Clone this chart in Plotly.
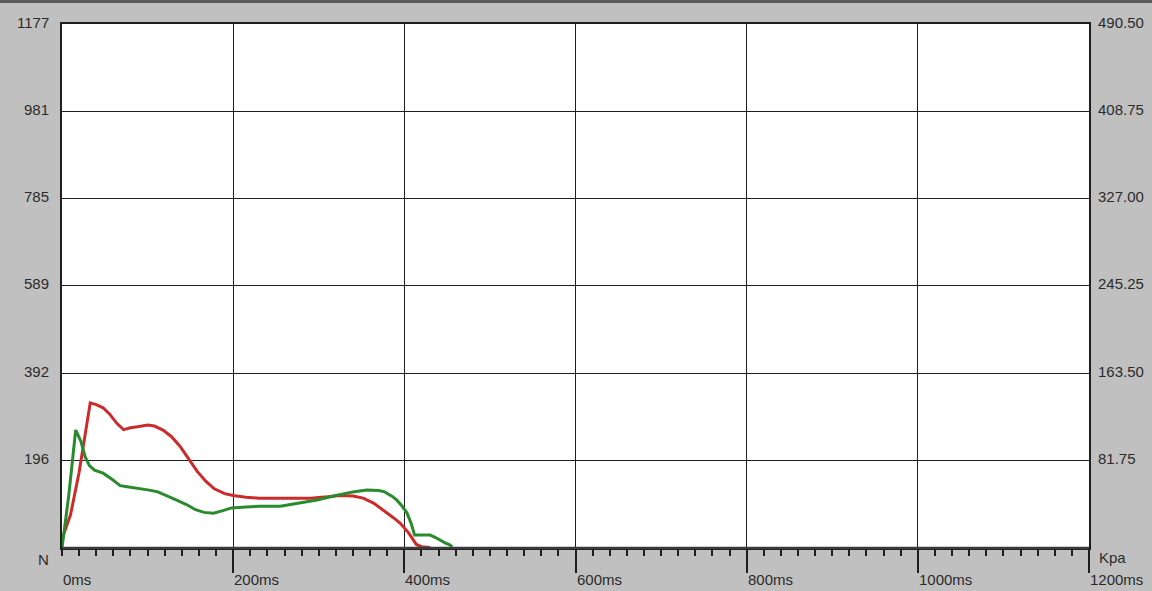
import plotly.graph_objects as go

# Force traces (time in ms, force in N)
red_t = [0, 10, 20, 28, 33, 40, 48, 56, 64, 72, 80, 90, 100, 108, 118, 128, 138, 148,
         158, 168, 178, 190, 200, 215, 230, 250, 270, 290, 310, 325, 340, 352, 364,
         372, 380, 388, 395, 405, 414, 420, 430]
red_v = [20, 75, 170, 270, 326, 322, 315, 300, 280, 266, 270, 273, 276, 274, 265, 250,
         228, 200, 172, 150, 133, 122, 118, 114, 112, 112, 112, 112, 115, 118, 117, 112,
         101, 90, 79, 67, 56, 34, 8, 3, 1]

green_t = [0, 8, 16, 22, 27, 32, 38, 48, 58, 68, 78, 91, 102, 112, 126, 136, 146, 156,
           166, 177, 188, 198, 215, 231, 255, 275, 298, 320, 340, 356, 370, 377, 385,
           391, 397, 403, 408, 412, 420, 430, 436, 441, 447, 453, 456]
green_v = [0, 120, 265, 240, 205, 185, 175, 168, 155, 140, 137, 134, 130, 126, 115, 106,
           97, 86, 80, 78, 84, 90, 92, 94, 94, 100, 108, 118, 126, 130, 129, 126, 117,
           108, 95, 79, 55, 29, 29, 29, 24, 18, 12, 7, 3]

# Axis scales and labels
x_max = 1200
x_major = [200, 400, 600, 800, 1000, 1200]
x_label_vals = [0, 200, 400, 600, 800, 1000, 1200]
x_label_text = ["0ms", "200ms", "400ms", "600ms", "800ms", "1000ms", "1200ms"]

y_max = 1177
y_ticks = [196, 392, 589, 785, 981, 1177]
y_left_text = ["196", "392", "589", "785", "981", "1177"]
y_right_text = ["81.75", "163.50", "245.25", "327.00", "408.75", "490.50"]
left_unit = "N"
right_unit = "Kpa"

W, H = 1152, 591
ML, MR, MT, MB = 62, 63, 24, 43
plot_h = H - MT - MB

font = dict(family="Liberation Sans", size=15, color="#2b2b2b")

fig = go.Figure()
fig.add_trace(go.Scatter(x=red_t, y=red_v, mode="lines",
                         line=dict(color="#cc2b2b", width=3), showlegend=False))
fig.add_trace(go.Scatter(x=green_t, y=green_v, mode="lines",
                         line=dict(color="#2a8a2e", width=3), showlegend=False))

annotations = []
for v, txt in zip(y_ticks, y_left_text):
    annotations.append(dict(x=0, xref="paper", y=v, yref="y", text=txt, showarrow=False,
                            xanchor="right", yanchor="middle", xshift=-11, yshift=2, font=font))
for v, txt in zip(y_ticks, y_right_text):
    annotations.append(dict(x=1, xref="paper", y=v, yref="y", text=txt, showarrow=False,
                            xanchor="left", yanchor="middle", xshift=7, yshift=2, font=font))
for v, txt in zip(x_label_vals, x_label_text):
    annotations.append(dict(x=v, xref="x", y=0, yref="paper", text=txt, showarrow=False,
                            xanchor="left", yanchor="middle", xshift=-1, yshift=-31, font=font))
annotations.append(dict(x=0, xref="paper", y=0, yref="paper", text=left_unit, showarrow=False,
                        xanchor="right", yanchor="middle", xshift=-11, yshift=-11, font=font))
annotations.append(dict(x=1, xref="paper", y=0, yref="paper", text=right_unit, showarrow=False,
                        xanchor="left", yanchor="middle", xshift=8, yshift=-9, font=font))

top_edge = 1 + MT / plot_h
shapes = [
    # window frame line along the top
    dict(type="line", xref="paper", yref="paper", x0=-ML / (W - ML - MR), x1=1 + MR / (W - ML - MR),
         y0=top_edge - 1.5 / plot_h, y1=top_edge - 1.5 / plot_h,
         line=dict(color="#5a5a5a", width=3)),
    # heavier baseline
    dict(type="line", xref="paper", yref="paper", x0=0, x1=1, y0=0, y1=0,
         line=dict(color="#3a3a3a", width=2.5)),
]

fig.update_layout(
    width=W, height=H, autosize=False,
    margin=dict(l=ML, r=MR, t=MT, b=MB, pad=0),
    paper_bgcolor="#c0c0c0", plot_bgcolor="#ffffff",
    annotations=annotations, shapes=shapes,
    xaxis=dict(range=[0, x_max], tickmode="array", tickvals=x_major, showticklabels=False,
               showgrid=True, gridcolor="#1e1e1e", gridwidth=1,
               ticks="outside", ticklen=23, tickcolor="#1e1e1e", tickwidth=1.5,
               minor=dict(tickmode="linear", tick0=0, dtick=20, ticks="outside", ticklen=6,
                          tickcolor="#1e1e1e", tickwidth=1.5, showgrid=False),
               showline=True, mirror=True, linecolor="#1e1e1e", linewidth=1.5,
               zeroline=False, fixedrange=True),
    yaxis=dict(range=[0, y_max], tickmode="array", tickvals=y_ticks, showticklabels=False,
               showgrid=True, gridcolor="#1e1e1e", gridwidth=1, ticks="",
               showline=True, mirror=True, linecolor="#1e1e1e", linewidth=1.5,
               zeroline=False, fixedrange=True),
)

fig.write_html("out.html")
